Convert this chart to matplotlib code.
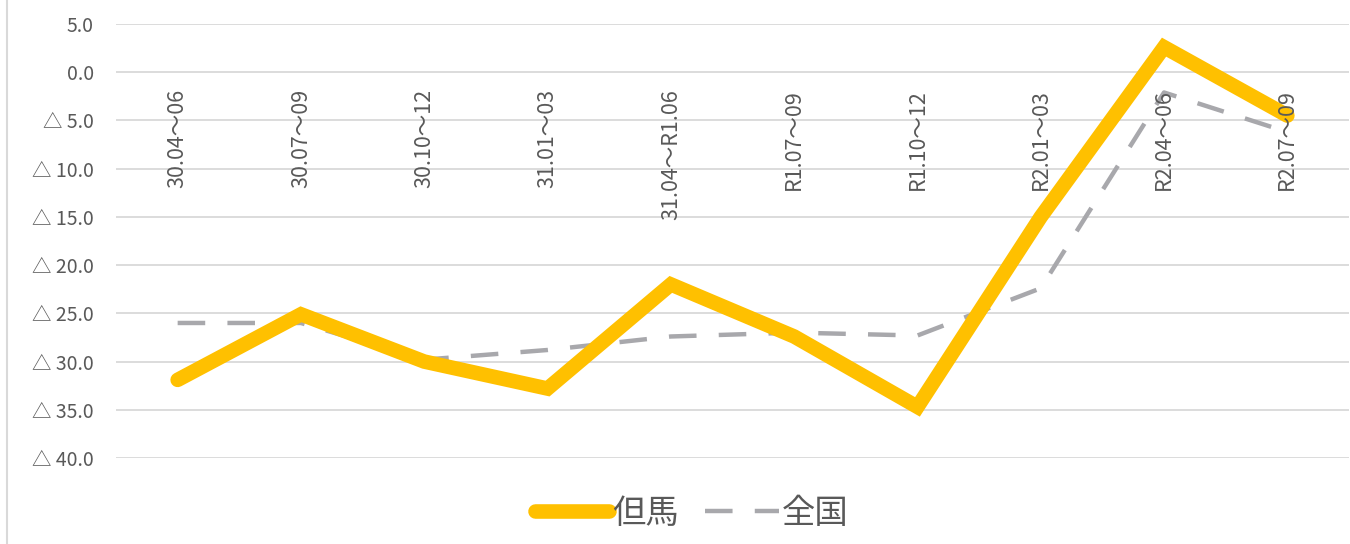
import matplotlib
matplotlib.use("Agg")
import matplotlib.pyplot as plt
from matplotlib.lines import Line2D

plt.rcParams['font.family'] = ['Noto Sans CJK JP', 'DejaVu Sans']

categories = ["30.04～06", "30.07～09", "30.10～12", "31.01～03", "31.04～R1.06",
              "R1.07～09", "R1.10～12", "R2.01～03", "R2.04～06", "R2.07～09"]
tajima = [-31.9, -25.1, -30.0, -32.8, -22.0, -27.4, -34.7, -15.0, 2.6, -4.5]
zenkoku = [-26.0, -26.0, -29.8, -28.8, -27.4, -27.0, -27.3, -22.4, -2.1, -6.2]
ytick_vals = [5, 0, -5, -10, -15, -20, -25, -30, -35, -40]
ytick_labels = ["5.0", "0.0", "△ 5.0", "△ 10.0", "△ 15.0", "△ 20.0",
                "△ 25.0", "△ 30.0", "△ 35.0", "△ 40.0"]

W, H = 1350, 544
fig = plt.figure(figsize=(W / 100, H / 100), dpi=100)
left, right = 116 / W, 1349 / W
top, bottom = 1 - 24 / H, 1 - 458 / H
ax = fig.add_axes([left, bottom, right - left, top - bottom])

x = list(range(len(categories)))
ax.set_xlim(-0.5, len(categories) - 0.5)
ax.set_ylim(-40, 5)

grid_c = "#D9D9D9"
for v in ytick_vals:
    ax.axhline(v, color=grid_c, lw=1.3, zorder=1)

ax.plot(x, zenkoku, color="#A8A8AC", lw=3.2, dashes=(6.2, 5.0),
        solid_capstyle="butt", dash_capstyle="butt", zorder=3, clip_on=False)
ax.plot(x, tajima, color="#FFC000", lw=10.5, solid_capstyle="round",
        solid_joinstyle="miter", zorder=4, clip_on=False)

ax.set_yticks(ytick_vals)
ax.set_yticklabels(ytick_labels, fontsize=14, color="#595959")
ax.tick_params(axis="y", length=0, pad=16)
ax.set_xticks([])
for s in ax.spines.values():
    s.set_visible(False)

for i, lab in enumerate(categories):
    ax.annotate(lab, xy=(i, 0), xytext=(0, -12), textcoords="offset points",
                rotation=90, ha="center", va="top", fontsize=15.5,
                color="#595959", zorder=5)

# chart area border on the left
fig.add_artist(Line2D([7 / W, 7 / W], [0, 1], color="#D9D9D9", lw=1.5))

handles = [Line2D([], [], color="#FFC000", lw=10.5, solid_capstyle="round"),
           Line2D([], [], color="#A8A8AC", lw=3.2, dashes=(6.2, 5.0))]
fig.legend(handles, ["但馬", "全国"], loc="center", bbox_to_anchor=(692 / W, 1 - 513 / H),
           ncol=2, frameon=False, fontsize=24, labelcolor="#595959",
           handlelength=2.2, handletextpad=0.1, columnspacing=0.8)

fig.savefig("out.png", dpi=100, facecolor="white")
